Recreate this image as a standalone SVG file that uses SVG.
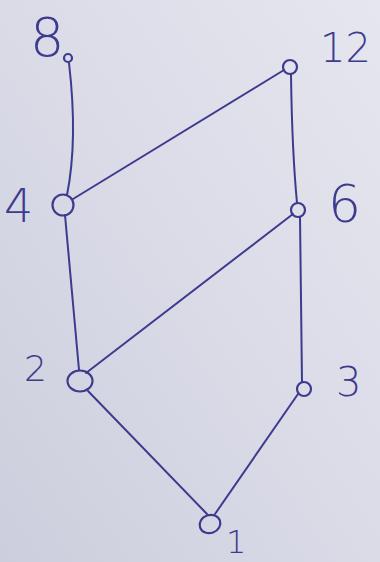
<svg xmlns="http://www.w3.org/2000/svg" width="380" height="562" viewBox="0 0 380 562">
<defs>
<linearGradient id="bg" x1="1" y1="0" x2="0" y2="1">
<stop offset="0" stop-color="#e6e6ef"/>
<stop offset="0.5" stop-color="#dadbe7"/>
<stop offset="1" stop-color="#cdcedd"/>
</linearGradient>
<style>
.e{stroke:#3d3b8e;stroke-width:2;fill:none;stroke-linecap:round}
.n{stroke:#3d3b8e;stroke-width:2.2;fill:none}
.t{font-family:"DejaVu Sans",sans-serif;fill:#3d3b8e;font-weight:300}
</style>
</defs>
<rect width="380" height="562" fill="url(#bg)"/>
<g id="connectors">
<path class="e" d="M69,63 Q78,140 67,195"/>
<path class="e" d="M284,70 L73,199"/>
<path class="e" d="M291,74 Q292,150 297,203"/>
<path class="e" d="M293,214 L86,373"/>
<path class="e" d="M65,215 L79,370"/>
<path class="e" d="M300,217 L302,382"/>
<path class="e" d="M88,391 L207,514"/>
<path class="e" d="M298,394 L215,514"/>
</g>
<g id="n8"><circle class="n" cx="68" cy="58" r="4"/><text class="t" x="30" y="56" font-size="54">8</text></g>
<g id="n12"><circle class="n" cx="290" cy="67" r="7"/><text class="t" x="320" y="62" font-size="40">12</text></g>
<g id="n4"><circle class="n" cx="63" cy="205" r="10.5"/><text class="t" x="4" y="222" font-size="46">4</text></g>
<g id="n6"><circle class="n" cx="298" cy="210" r="7"/><text class="t" x="328" y="222" font-size="52">6</text></g>
<g id="n2"><ellipse class="n" cx="80" cy="381" rx="12.5" ry="10.5"/><text class="t" x="24" y="381" font-size="36">2</text></g>
<g id="n3"><circle class="n" cx="304" cy="389" r="7"/><text class="t" x="336" y="396" font-size="40">3</text></g>
<g id="n1"><ellipse class="n" cx="210" cy="524" rx="10.5" ry="9" transform="rotate(-20 210 524)"/><text class="t" x="226" y="553" font-size="32">1</text></g>
</svg>
